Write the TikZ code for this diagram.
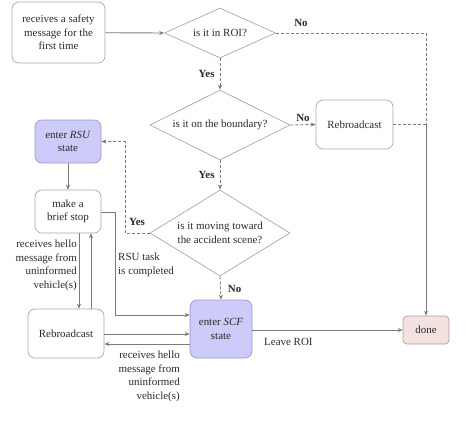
\documentclass[tikz,border=0pt]{standalone}
\usepackage{fontspec}
\setmainfont{Liberation Serif}
\usetikzlibrary{shapes.geometric,arrows.meta,calc}
\definecolor{ln}{HTML}{7A7A7A}
\definecolor{bd}{HTML}{A8A8A8}
\definecolor{txt}{HTML}{2A2A2A}
\definecolor{lav}{HTML}{CDCBFA}
\definecolor{lavbd}{HTML}{9A98CC}
\definecolor{pink}{HTML}{F3E2E0}
\definecolor{pinkbd}{HTML}{B89C9A}
\begin{document}
\begin{tikzpicture}[x=1bp,y=-1bp,
  every node/.style={text=txt,font=\fontsize{11}{13.6}\selectfont},
  box/.style={draw=bd,line width=0.7bp,rounded corners=7bp,align=center,inner sep=0pt},
  dia/.style={draw=bd,line width=0.7bp,shape=diamond,inner sep=0pt},
  lbl/.style={align=center,inner sep=0pt},
  yn/.style={font=\fontsize{11}{13}\selectfont\bfseries,inner sep=0pt},
  cn/.style={draw=ln,line width=0.9bp},
  arr/.style={cn,-{Stealth[length=5bp,width=4bp]}},
  dsh/.style={dash pattern=on 3bp off 2bp}
]
\useasboundingbox (0,0) rectangle (474,430);
% nodes
\node[box,minimum width=93bp,minimum height=61bp] (start) at (58.5,32.5) {receives a safety\\message for the\\first time};
\node[dia,minimum width=111bp,minimum height=50bp] (d1) at (220,33) {};
\node[lbl] at (d1) {is it in ROI?};
\node[dia,minimum width=140bp,minimum height=70bp] (d2) at (220,125) {};
\node[lbl] at (d2) {is it on the boundary?};
\node[dia,minimum width=140bp,minimum height=86bp] (d3) at (220,233) {};
\node[lbl] at (d3) {is it moving toward\\the accident scene?};
\node[box,minimum width=77bp,minimum height=49bp] (rb1) at (354.5,124.5) {Rebroadcast};
\node[box,fill=lav,draw=lavbd,minimum width=66bp,minimum height=43bp] (rsu) at (68,141.5) {enter \textit{RSU}\\state};
\node[box,minimum width=66bp,minimum height=43bp] (stop) at (68,211.5) {make a\\brief stop};
\node[box,minimum width=76bp,minimum height=49bp] (rb2) at (66,333.5) {Rebroadcast};
\node[box,fill=lav,draw=lavbd,minimum width=62bp,minimum height=58bp] (scf) at (221,329) {enter \textit{SCF}\\state};
\node[box,fill=pink,draw=pinkbd,rounded corners=4bp,minimum width=46bp,minimum height=28bp] (done) at (426,330) {done};
% helper coordinates
\coordinate (j) at (426,124.5);
\coordinate (yc) at (125,233);
\coordinate (sc) at (115,212);
\coordinate (a1) at (79,0);
\coordinate (a2) at (91,0);
\coordinate (b1) at (0,334);
\coordinate (b2) at (0,344);
\coordinate (b0) at (0,315);
% connectors
\draw[arr] (start) -- (d1.west);
\draw[cn,dsh] (d1.east) -| (j);
\node[yn] at (301,23) {No};
\draw[arr,dsh] (d1.south) -- (d2.north) node[yn,midway,left=5bp] {Yes};
\draw[arr,dsh] (d2.east) -- (rb1.west) node[yn,midway,above=3bp] {No};
\draw[cn,dsh] (rb1.east) -- (j);
\draw[arr] (j) -- (done.north);
\draw[arr,dsh] (d2.south) -- (d3.north) node[yn,midway,left=5bp] {Yes};
\draw[arr,dsh] (d3.west) -- (yc) |- (rsu.east);
\node[yn] at (137,222) {Yes};
\draw[arr,dsh] (d3.south) -- (scf.north) node[yn,midway,right=7bp,yshift=-1bp] {No};
\draw[arr] (rsu.south) -- (stop.north);
\draw[arr] (stop.east |- sc) -- (sc) |- (scf.west |- b0);
\node[lbl,align=left,anchor=north west] at (118,253) {RSU task\\is completed};
\draw[arr] (a1 |- stop.south) -- (a1 |- rb2.north);
\draw[arr] (a2 |- rb2.north) -- (a2 |- stop.south);
\node[lbl,align=right,anchor=north east] at (77,240) {receives hello\\message from\\uninformed\\vehicle(s)};
\draw[arr] (rb2.east |- b1) -- (scf.west |- b1);
\draw[arr] (scf.west |- b2) -- (rb2.east |- b2);
\node[lbl,align=right,anchor=north east] at (180,351) {receives hello\\message from\\uninformed\\vehicle(s)};
\draw[arr] (scf.east |- done.west) -- (done.west);
\node[lbl,anchor=north west] at (264,338) {Leave ROI};
\end{tikzpicture}
\end{document}
